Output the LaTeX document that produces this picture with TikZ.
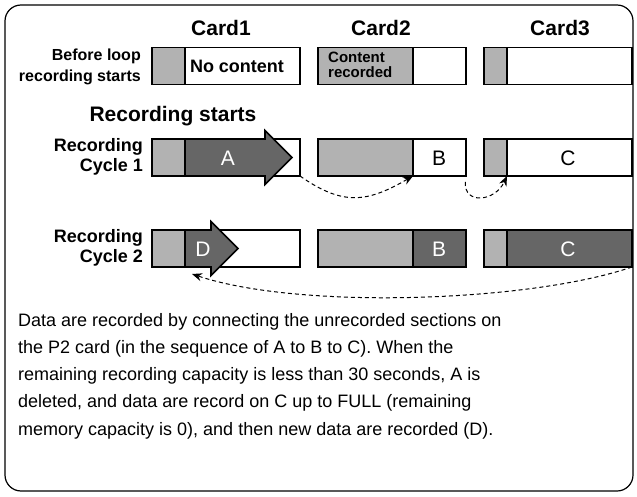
\documentclass[tikz,border=0pt]{standalone}
\usepackage{fontspec}
\setmainfont{Liberation Sans}
\usepackage{tikz}
\usetikzlibrary{arrows.meta, positioning}
\definecolor{usedgray}{gray}{0.70}
\definecolor{recgray}{gray}{0.40}

\begin{document}
\begin{tikzpicture}[
    x=1pt, y=-1pt,
    part/.style={draw, line width=1.6pt, minimum height=37pt, inner sep=0pt, outer sep=0pt, anchor=west},
    used/.style={part, fill=usedgray},
    rec/.style={part, fill=recgray},
    bar/.style={part, minimum width=148pt},
    recarrow/.style={draw, line width=1.6pt, fill=recgray, line join=miter},
    head/.style={font=\bfseries\fontsize{21}{24}\selectfont},
    rowlabel/.style={font=\bfseries\fontsize{18}{20}\selectfont, align=right, anchor=east, inner sep=0pt},
    smalllabel/.style={font=\bfseries\fontsize{16}{21}\selectfont, align=right, anchor=east, inner sep=0pt},
    seg/.style={font=\fontsize{21}{24}\selectfont, inner sep=0pt},
    jump/.style={-{Stealth[length=10pt,width=8pt]}, dash pattern=on 4pt off 3pt, line width=1pt}
]
    \useasboundingbox (0,0) rectangle (637,497);
    \draw[line width=1.2pt, rounded corners=16pt] (5,5) rectangle (633,491);

    \node[head] (h1) at (221,28) {Card1};
    \node[head] (h2) at (381,28) {Card2};
    \node[head] (h3) at (560,28) {Card3};

    % before loop recording
    \node[bar] (c10) at (152,66) {};
    \node[bar, right=18pt of c10] (c20) {};
    \node[bar, right=18pt of c20] (c30) {};
    \node[used, minimum width=33pt] (g10) at (c10.west) {};
    \node[used, minimum width=95pt] (g20) at (c20.west) {};
    \node[used, minimum width=23pt] (g30) at (c30.west) {};
    \node[font=\bfseries\fontsize{18}{20}\selectfont] (none) at (237,66) {No content};
    \node[font=\bfseries\fontsize{15}{15.5}\selectfont, align=left, anchor=west, inner sep=0pt] (full) at (328,65) {Content\\recorded};
    \node[smalllabel] (l0) at (141,67) {Before loop\\recording starts};

    \node[head] (start) at (173,116) {Recording starts};

    % cycle 1
    \node[bar] (c11) at (152,157.5) {};
    \node[bar, right=18pt of c11] (c21) {};
    \node[bar, right=18pt of c21] (c31) {};
    \node[used, minimum width=33pt] (g11) at (c11.west) {};
    \node[used, minimum width=95pt] (g21) at (c21.west) {};
    \node[used, minimum width=23pt] (g31) at (c31.west) {};
    \draw[recarrow] (g11.north east) -- ++(80,0) -- ++(0,-8.5) -- ++(27,27)
        -- ++(-27,27) -- ++(0,-8.5) -- (g11.south east) -- cycle;
    \node[seg, text=white] (a) at (228,158) {A};
    \node[seg] (b1) at (439,158) {B};
    \node[seg] (c1) at (568,158) {C};
    \node[rowlabel] (l1) at (143,157) {Recording\\Cycle 1};

    % cycle 2
    \node[bar] (c12) at (152,248.5) {};
    \node[bar, right=18pt of c12] (c22) {};
    \node[bar, right=18pt of c22] (c32) {};
    \node[used, minimum width=33pt] (g12) at (c12.west) {};
    \node[used, minimum width=95pt] (g22) at (c22.west) {};
    \node[rec, minimum width=53pt, right=0pt of g22] (r22) {};
    \node[used, minimum width=23pt] (g32) at (c32.west) {};
    \node[rec, minimum width=125pt, right=0pt of g32] (r32) {};
    \draw[recarrow] (g12.north east) -- ++(26,0) -- ++(0,-8.5) -- ++(27,27)
        -- ++(-27,27) -- ++(0,-8.5) -- (g12.south east) -- cycle;
    \node[seg, text=white] (d) at (203,249) {D};
    \node[seg, text=white] (b2) at (439,249) {B};
    \node[seg, text=white] (c2) at (568,249) {C};
    \node[rowlabel] (l2) at (143,248) {Recording\\Cycle 2};
    \coordinate (back) at (192,274);

    \draw[jump] (c11.south east) to[out=-35, in=-150, looseness=1.2] (g21.south east);
    \draw[jump, shorten <=6pt] (c21.south east) to[out=-95, in=-115, looseness=1.8] (g31.south east);
    \draw[jump] (c32.south east) .. controls (530,302) and (300,310) .. (back);

    \node[font=\fontsize{18}{27.2}\selectfont, align=left, anchor=north west, inner sep=0pt] (note) at (18,313)
        {Data are recorded by connecting the unrecorded sections on\\
         the P2 card (in the sequence of A to B to C). When the\\
         remaining recording capacity is less than 30 seconds, A is\\
         deleted, and data are record on C up to FULL (remaining\\
         memory capacity is 0), and then new data are recorded (D).};
\end{tikzpicture}
\end{document}
